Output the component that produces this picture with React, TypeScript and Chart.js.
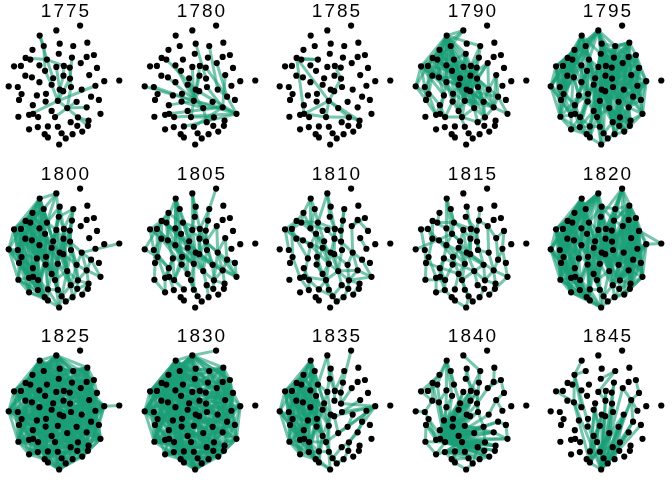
import { useEffect, useRef } from 'react';
import Chart from 'chart.js/auto';

// one shared node layout (local panel pixels), edges differ per year
const years = ['1775', '1780', '1785', '1790', '1795', '1800', '1805', '1810', '1815', '1820', '1825', '1830', '1835', '1840', '1845'];

const nodeX = [81, 55.7, 38, 59.3, 42.3, 73.7, 88.7, 30.3, 58.3, 72.3, 88, 95.7, 23, 28, 45.7, 10.7, 18, 37.7, 55.7, 63.7, 70, 81.7, 99, 43.7, 22.7, 29.7, 52.3, 63.3, 70.3, 90.7, 106.7, 122.7, 37.7, 5, 14.7, 50.7, 71.3, 82.7, 97.3, 59.3, 63, 44.7, 35, 18.7, 16, 92.7, 57.3, 44.3, 77.3, 101, 30.7, 67.3, 88, 50.7, 26.7, 31, 15.3, 36.3, 54.3, 78.7, 102.7, 71, 90, 78, 89.3, 26.7, 36, 46.7, 57.3, 43.3, 46.7, 61.3, 65.7, 73, 83.3, 58.7];
const nodeY = [25.7, 30.7, 36, 44.3, 46.7, 46.7, 43.3, 50.7, 54.7, 58.7, 58, 56, 59, 60.7, 60.7, 67.7, 67.3, 66.7, 68.3, 67.3, 69, 64.3, 69.3, 72.3, 77.3, 79, 80, 77.3, 80.3, 76.7, 83, 82.3, 84, 88.3, 89, 86.7, 89, 91.7, 87.7, 91.7, 93.3, 96, 97.7, 96.3, 102.3, 99, 103.3, 104, 104.3, 102.3, 107.7, 110.7, 110, 113.7, 117.7, 116.7, 119.7, 120, 120, 120.3, 116.7, 125.3, 123.7, 129, 129, 132.7, 130.3, 129.7, 130, 137.7, 141, 136.7, 142, 137.7, 135, 148.3];

// edges as "node:neighbour,neighbour" (1-based node numbers)
const edges1775 = '3:5,15 5:24 13:15 15:20,27 20:21,28 21:37 19:40 24:36 28:40 29:41 36:47 40:47 41:47 37:52 47:52,55 39:47 49:52 52:59,65,53 60:63 10:29';
const edges1780 = '34:47 35:47 18:47 26:52 14:40 6:38 4:29 19:47 20:47 21:46 28:47 37:53 47:53,61,59 53:61 46:61 56:53 58:61 68:61 51:47 48:52 52:53,62 62:60 59:60 27:47 38:46 22:46 30:53 41:47 36:52 40:61 69:53';
const edges1785 = '13:15,47,56 14:15 47:29,56,59,60,63 56:59 59:60 60:63 20:29';
const edges1790 = '3:8,13,14,15,18,24,27,9,6 5:15,18,24 8:13,14,17,26 13:16,17,25,26,34 14:18,24,26 15:19,20,24,27,28 16:25,34,35 17:25,44 18:24,27,33,36 19:27,28,40,47 20:21,28,29,40,41 21:29,37,10 6:10,20 9:19,20 22:29,38 24:33,36,42 25:35,44 26:33,43 27:36,40,42,47 28:37,40,41,52 29:37,41,38,46 30:38,46,53 33:42,43,48 34:44,45 35:45,51 36:40,47,48 37:49,52 38:49,53 40:47,52,54 41:52,49 42:47,48,54 43:51,56 44:45,55 45:55 46:53,61 47:54,59 48:54,58 49:53,60 51:55,58 52:59,60,62 53:60,61 54:59,69 56:58 58:59 59:62 60:62 3:16,25,26,33,36,40,28,20 8:18,24,27,33,15 13:14,18,24,33,27 14:15,27,36,40 16:17,26,33,43 17:26,33,24 25:26,33,42 26:27,36,40 5:14,13,27,19 2:3,5,8 9:15,27,40 15:36,40,41 18:19,40,47 24:27,40,47 19:20,21,41 20:37,47,52 21:28,40 27:28,41,52 28:29,49 36:41,52,54 40:41,49,53 41:53,60,46 47:49,52,53 22:28,41 10:20,28 29:53,60,49';
const edges1795 = '2:5,9,15,6 3:8,14,24,9,15 4:9,20,10,6,19 5:13,15,18,8 6:10,11,22,7 7:11,12,22 8:13,16,17,25,26 9:19,20,27,21 10:21,22,28,29 11:22,23,30 12:23,30,22 13:16,17,25,34 14:18,26,33,24 15:24,27,19,36 16:34,35,25 17:25,44,35 18:24,33,42,26 19:27,28,40,36 20:28,29,41,37 21:29,37,38 22:30,38,29 23:30,31,39 24:36,42,33 25:35,44,45 26:33,43,44 27:36,40,47,42 28:37,40,41,52 29:37,38,49 30:39,46,38,31 31:39,50,46 33:43,48,42 34:44,45,57 35:44,45,51 36:42,47,48 37:49,52,41 38:46,49,53 39:46,50,53 40:47,52,54 41:52,49,59 42:48,54,43 43:51,56,48 44:45,55,51 45:57,55 46:50,53,61 47:54,59,69 48:54,58,67 49:53,60,62 50:61,53 51:55,56,58 52:60,62,59 53:60,61,63 54:59,68,69 55:57,66,56 56:58,67 57:66 58:67,68 59:69,72 60:62,63,64 61:63,65 62:64,72,74 63:65,75 64:74,75 65:75 66:70,67 67:70,68 68:71,69 69:72,76 70:71 71:76 72:73,76 73:74,76 74:75 3:36 8:42 15:47 20:52 12:38 31:53 34:55 57:70 13:43 22:49 28:59 19:54 11:46 2:13,16,25,34,44,20,28,29 3:25,34,44,57,27,40 5:16,25,35,45 8:34,35,44,45,55 13:35,44,57 16:44,45,57 4:28,40,47 6:20,28,37,49 7:10,21,29,30 9:28,36,47 10:30,37,38 11:29,38,46 12:39,46 20:40,47,54 21:41,52 22:37,46 24:43,48,51 27:48,54,59 28:49,52,60 29:52,53 30:50,53 36:54,59 37:53,60 38:50,60,61 40:59,62 41:60,64 42:51,58,67 43:55,57 47:62,72 49:63,64 52:64,74 53:65,64 54:67,70,71 59:71,76 58:66,70 62:75 60:65,74 31:61 39:61 23:46 7:6,9,20,28,37,38 12:10,21,29,37,31 11:21,28,37,49 22:28,41,52,53 23:22,38,46,49,50 30:29,37,49,60 31:38,49,53 10:9,20,41,49 6:19,21,29 4:21,22,29 9:22,29 2:10,21 47:60,64 52:63,65,75 49:65,75 53:75 60:75 40:64,69 41:72,74';
const edges1800 = '2:5,15 3:5,8,14,15,24,18 4:9,15,19 5:8,13,14,15,18 6:9,20,10 8:13,14,16,17,25 13:16,17,25,26,34 14:18,24,26,33 15:18,19,24,27 16:25,34,35,44 17:25,35,44,45 18:24,26,33,42 19:27,28,36,40 20:28,29,40,21 21:29,37,41 9:19,20,27 10:21,29 24:33,36,42,48 25:35,44,43 26:33,43,51 27:36,40,42,47 28:37,41,47,52 29:37,38,49 33:42,43,48,51 34:44,45,57 35:44,45,55 36:40,47,48,54 37:49,52,60 38:46,49,53,32 40:47,52,54,59 41:49,52,62 42:48,54,58 43:51,55,56 44:45,55,57 45:55,57,66 46:53,61 47:54,59,69 48:54,58,67 49:53,60,62 51:55,56,58 52:59,60,62,72 53:60,61,63 54:59,68,69 55:57,66,67 56:58,67 57:66 58:67,68,70 59:69,72 60:62,63,64 62:64,72,74 63:64,75 64:74 66:70 67:70,71 68:71,69 69:72,73 70:71 71:76 72:73,76 73:74 3:27 13:42 16:43 14:36 34:51 5:27 8:33 17:42 25:48 3:13,16,25,33 5:16,17,24,33 8:18,24,26,35 13:33,43,44 14:25,42 16:26,33,45 17:26,43 18:36,48 24:40,47,54 25:51,55 26:42,48 27:48,54 33:54,58 34:43,35 35:51 42:43,59,67 43:58,67 44:51,66 45:58 47:52,62 48:59,68 51:67,66 54:72 55:70 57:67 58:71 59:76 68:76 19:41,47 20:41,52 36:59 40:62 4:20,27 2:3,9 6:21 3:26,42 8:36 13:48 16:51 17:48,55 25:58 26:54 34:55 35:58 44:67 45:67 57:70 66:71 43:70 51:70 42:68';
const edges1805 = '1:6 2:20,19 3:14,18,27,24 6:20,21 4:19 8:13,17,26 13:25,34,16 14:26,33 15:20,27 16:25,35 17:44 18:33,42 19:27,40 20:29,28,41 21:37,29 10:21 22:29,38 24:36 25:35,44 26:43,33 27:40,47 28:41,52 29:38,49 30:38,46 33:42,48 34:44 35:45,51 36:47,54 37:49,52 38:53,61 40:52,47 41:49,61 42:54,58 43:51,55 44:55 45:57 46:61,53 47:59,69 48:58 49:60,53 51:56 52:60,62 53:63,61 54:69 55:66 56:67 58:68 59:72 60:63,64 62:74 63:65 14:36 3:40 17:47 25:52 13:49 26:53 8:46 3:33,42 2:9 13:24,27 14:40 16:33 17:26 25:48 26:47 33:47 36:52 42:47 43:58 44:51 48:54 51:55 55:58 57:66 59:69 62:64 60:53 61:50 46:50 38:60 20:37 29:41';
const edges1810 = '3:5,8 2:9,20 5:15,18 8:13,14 13:16,15,19 14:17 15:20,24 19:28 9:20 20:21,28,41 21:37 6:21,10 28:40,29 24:42,36 16:25,35 17:44 25:43 26:40 33:47 36:40,48 40:47,52 41:52,49 29:38 37:52 38:53,46 42:54 43:56 44:55 48:59 51:58 54:59 52:60,62,59,53 47:59,52 59:69,72 56:59 55:67 58:68 60:64,63,61 62:72 64:74 53:61 49:60 68:72 69:73 73:74 75:63 18:40 14:27 10:29 11:22 22:38 27:47 13:14,17 8:18 3:18 2:15 15:27 16:26 17:25 24:33 25:26 26:33 33:43 36:47 40:41 47:54 54:69 56:58 58:67 48:54 42:48 59:68 62:64 63:65 53:60 46:61 38:49 12:22 11:23 30:39';
const edges1815 = '3:24,18 5:15 34:24 13:18 8:14 14:15 15:19,20 24:27,33 18:27 19:28,40 4:20 6:21 9:21 20:29 21:37 10:22 22:30 23:30,39 30:46 39:46,61 26:33 25:44 33:43,47 27:40,47 28:41 29:49 36:48 40:52 41:53 37:38 38:53 46:53 44:55 43:51 42:54 48:58 51:56,58 47:59,54 52:59,62 53:60,61 49:60 54:68 56:67 59:69 60:63 62:64 63:65 58:67 69:72 72:73 64:74 55:66 35:45 16:35 17:42 43:52 26:49 45:54 57:58 3:15 13:14,25 15:24 16:17 17:25 25:26 18:33 19:27 20:41 21:29 22:38 28:40 29:37 36:47 40:47 41:49 43:56 45:57 52:60 53:63 61:65 49:52 54:59 66:67 67:70 70:71 71:76 72:76 59:72 65:75';
const edges1820 = '1:22,11,12 2:4,5,9,15,19 3:5,8,13,14,15,24,27 4:6,9,10,20 5:8,14,18,24 6:7,10,11,21 7:11,12,22,23 8:13,16,17,25 9:19,20,21,28 10:21,22,29 11:22,23,30 12:23,30,31 13:16,17,25,34,35 14:18,26,33,44 15:19,24,27,36 16:34,35,44,45 17:25,35,44 18:24,33,42,43 19:27,28,36,40 20:28,29,41,37 21:29,37,38 22:29,30,38,39 23:30,31,39,32 24:36,42,48 25:35,43,44,51 26:33,43,51 27:36,40,42,47 28:37,40,41,52 29:37,38,49 30:38,39,46 31:39,46,50,32 33:42,43,48 34:44,45,57 35:44,45,51,55 36:42,47,48,54 37:49,52,60 38:46,49,53 39:46,50,53 40:47,52,54 41:49,52,59 42:48,54,58 43:51,56,58 44:45,55,57 45:55,57,66 46:50,53,61 47:54,59,69 48:54,58,67 49:53,60,62 50:53,61,63 51:55,56,58 52:59,60,62,72 53:60,61,63 54:59,68,69 55:57,66,67 56:58,67 57:66,70 58:67,68,70 59:69,72 60:62,63,64 61:63,65 62:64,72,74 63:64,65,75 64:74,75 65:75 66:70,67 67:70,71 68:71,69,76 69:72,76 70:71 71:76 72:73,76 73:74,76 74:75 2:16,34,57,70 3:45,66,71 7:38,53,65,75 12:46,61,65 16:66,71 34:70,76 8:44,57 23:50,61 6:29,37 9:36,47 4:27 10:41 11:38,46 22:49 13:43,55 17:51,56 5:33,43 15:42,48 2:13,25,44 3:16,25,34,26 7:30,39,46 12:22,39,53 1:6,10 8:35,44,14 13:44,26 16:57,55 17:45 34:66 35:57 44:66 45:70 57:71 66:76 70:76 23:46,53 31:53,61 39:61,65 30:53 46:63 50:65 61:75 65:74 24:40,47 27:52 19:41 20:47 28:49 36:59 42:59,68 48:68,69 54:72 47:62 40:60 41:60 1:9,20,21,28 6:20,28,29,37 7:10,20,29,37,49 10:28,37,49 11:29,37,49,52 12:29,38,49 22:37,52,60 23:38,49,60 30:49,60,61 31:38,49,60 38:52,62,65 39:49,60,63 46:49,62,65 50:60,64 9:27,40 19:47,52 20:52,62 21:41,52,49 28:47,59 29:41,52,62 27:47,59 36:54,68 4:15,19,28 2:8,13 3:17,26,33 5:16,25,35 13:33,42,51 16:43,51 17:33,48 25:45,57 35:56,66 44:58,67 45:67,71 55:71 57:67 66:71';
const edges1825 = '2:3,4,5,6,9,13,16,25,34,44,57,66,70,76,73,65,61,50,31,23,12,7 3:8,13,16,34,45,57,66,71,76,74,75,65,63,61,50,39,31,23,12 7:8,13,16,34,35,45,57,66,70,76,64,65,61,12,11,22 12:13,16,25,34,44,57,66,70,71,76,73,75,23 23:8,16,34,45,55,57,66,70,76,74,39 31:3,8,13,16,34,44,57,66,70,76,72,65,39,50,32 50:8,13,16,34,45,57,66,70,76,61,65 61:8,13,16,34,35,57,66,70,65,75 65:8,13,16,25,34,45,57,66,75,76 75:5,8,13,16,34,44,57,76,74 76:5,8,13,16,34,45,70,71 70:5,8,13,39,66,57 57:5,8,34,16,39,66 34:5,16,13,39,46 16:13,8,39,46,53,63 8:3,5,13,30,39,46,63 13:5,25,30,46,53,60 5:9,15,20,21,22,30 9:10,11,20,28 4:6,10,20 6:7,10,22 10:11,22,29 11:12,22,30 22:23,30,38 30:39,46 39:46,50,53 46:53,61 53:60,63 60:63,64 63:64 64:74 74:73 73:72 72:69 69:68 68:71 71:70 66:67 67:58 58:55 55:57 45:57 44:45 35:45 17:35 25:17 14:25 18:14 24:18 27:24 19:27 20:19 28:20 29:28 37:29 38:37 49:38 52:49 62:52 41:62 40:41 47:40 54:47 59:54 36:59 42:36 48:42 43:48 51:43 56:51 33:56 26:33 18:47,54,59,69,72,49 24:40,52,62,73,60 27:41,52,64,53 33:54,68,71,62 26:42,58,70,47 44:43,51,67,54 45:56,66,59 35:43,51,48';
const edges1830 = '1:2 2:3,4,5,9,13,16,25,34,44,57,66,70,76,73,61,31,12 3:8,13,16,34,45,57,66,71,76,74,65,50,23 7:13,16,34,45,57,70,76,12 12:16,34,57,66,76,23 23:16,34,57,70 31:16,34,57,66 50:13,34,57,66,76 61:16,34,66,70 65:13,34,57,66,76 75:5,8,16,34,57,76 76:5,8,13,16,34,45,70,71,25,17 70:5,8,13,66,57,3,14 57:5,8,34,16,14,18 34:5,16,13,8,3,18,24 16:13,8,3,5,2 8:3,5,13,14,18,24,27 13:5,25,18,24,33,42 5:9,15,20,21,24,27 9:10,20,28 4:6,10,20 6:10,22 10:29 22:30 30:46 39:50 46:53 53:60 60:63,64 64:74 74:73 73:72 72:69 69:68 68:71 71:70 66:67 67:58 58:55 55:57 45:57 44:45 35:45 17:35 25:17 14:25 18:14 24:18 27:24 19:27 20:19 28:20 29:28 41:62 40:41 47:40 54:47 59:54 36:59 42:36 48:42 43:48 51:43 56:51 33:56 26:33 18:47,54,59,69,72 24:40,52,62,73 27:41,52,64 33:54,68,71 26:42,58,70 44:43,51,67 45:56,66 35:43,51 7:22,30,39,46,53 12:30,39,46,50 23:31,39,46,53 31:39,46,50,61 39:46,61,65 50:61,63 61:63,65,75 65:75,74 11:22,30,38 22:38,46,49 30:38,53,60 38:53,60,62 46:60,63 53:62,64 49:62,64,75 2:7,12,23 3:22,30,38 13:30,38,46,53,61 16:39,46,53 8:22,30,38,46 34:46,53,60,63 57:53,60,63,65 66:60,64,75 70:63,64,75 76:60,63,64 5:22,7 9:22 18:30,38 24:46,49 25:38,49';
const edges1835 = '1:10 2:9,15 3:5,8,14,18,24 5:8,13,15,18 8:13,14,16,17,25 13:16,17,25,26,34 14:18,24,26,33 16:25,34,35,44 17:25,35,44,45 18:24,33,42,43 24:33,36,42,48 25:35,44,43,51 26:33,43,51 33:42,43,48,51 34:44,45,57 35:44,45,55 42:48,54,58 43:51,55,56 44:45,55,57 45:55,57,66 48:54,58,67 51:55,56,58 55:57,66,67 56:58,67 57:66,70 58:67,68,70 66:70,67 67:70,71 68:71,69 70:71 71:76 54:59,68 59:69,72 69:72,76 72:73 73:74 74:64 4:19,20 9:20 15:19,27 19:27,40 20:28 21:29 27:36,40,47 36:47,48 40:47,54 47:59,69 31:41,52,49,37,29,60 30:37 10:21 6:20 22:29 38:49 39:46 46:53 53:60 60:62,64 62:72 49:52 52:59 41:52 16:43 13:42 17:51 3:27 8:36 14:47 25:54 34:58 57:59 35:48 3:13,16,25,33,42 5:14,17,24,26 8:18,24,26,33,35,44 13:14,18,24,33,43,44 14:25,42,48 16:17,26,43,45 17:26,33,43 18:26,36,48 24:43,51,54 25:26,33,55 26:44,48,55 33:44,54,58 34:43,55 35:51,57 42:43,51,67 43:44,57,58,67 44:51,58,66 45:51,58 51:57,67,70 55:58,70 56:66,70 57:67 58:71 67:68,76 54:71 48:68 42:59';
const edges1840 = '2:6 6:10,20 3:8,14,15,18,24 8:13,16 13:17,25 14:17 4:9,20 7:11 11:22 12:23,22 23:30 30:39,38 22:29 9:21 5:15 15:27 24:33 18:26 58:13,14,18,24,27,28,29,36,40,41,47,52,53,60,61,46,38,49,63,65,75,64 56:19,20,27,40,52,53,60,46,61,63 51:20,21,28,37,49,53,60 55:47,52,62,64 43:51,56,58,27 44:55 45:57 57:66 66:67 67:70 70:71 71:76 68:71 54:59 59:69 69:72 67:59,62,72 48:54,58 42:48 33:43 26:43 25:35 35:44 16:25 34:35 10:29 21:37 29:37 20:28 28:40 37:49 46:50 50:61 53:61 49:60 60:63 63:65 62:73 73:76 74:75 64:74 72:73 47:54 56:28,41,49,64,65 55:58,60,63,75 51:40,41,52,62 43:47,52,53 58:19,20,21,37,62 67:52,60,64,75 68:60,74 70:59,72 57:58 44:58 45:55,56 66:58';
const edges1845 = '76:8,26,27,28,29,30,37,38,40,41,46,49,50,53,60,22,10,20,71,72,73 71:26,27,40,47,52,49,38 73:30,38,46,29,53 16:26,17 26:33 8:26,33 6:9,19 10:29 20:28 22:30 30:39,46 23:30 29:37 12:23 69:52,60 74:38 68:27,40 5:8 3:8 47:54 36:47 19:28';

const edgeLists = [edges1775, edges1780, edges1785, edges1790, edges1795, edges1800, edges1805, edges1810, edges1815, edges1820, edges1825, edges1830, edges1835, edges1840, edges1845];

const PW = 132;
const PH = 155;
const TITLE_SIZE = 19;
const TITLE_H = TITLE_SIZE * 1.2;
const EDGE_COLOR = 'rgba(27, 158, 119, 0.6)';
const FONT = '"Liberation Sans", Arial, Helvetica, sans-serif';

function parseEdges(s: string): [number, number][] {
  const out: [number, number][] = [];
  for (const tok of s.trim().split(/\s+/)) {
    const [a, rest] = tok.split(':');
    for (const b of rest.split(',')) out.push([+a - 1, +b - 1]);
  }
  return out;
}

// slightly wider title spacing, like the reference
const titleSpacing = {
  id: 'titleSpacing',
  beforeDraw(chart: any) {
    chart.ctx.letterSpacing = '2px';
  },
};

function Panel({ year, edges, left, top }: { year: string; edges: string; left: number; top: number }) {
  const chartRef = useRef<HTMLCanvasElement>(null);

  useEffect(() => {
    if (!chartRef.current) return;
    const ctx = chartRef.current.getContext('2d');
    if (!ctx) return;

    const nodes = nodeX.map((x, i) => ({ x, y: nodeY[i] }));
    const edgeData: { x: number | null; y: number | null }[] = [];
    for (const [a, b] of parseEdges(edges)) {
      edgeData.push({ x: nodeX[a], y: nodeY[a] }, { x: nodeX[b], y: nodeY[b] }, { x: null, y: null });
    }

    const chart = new Chart(ctx, {
      type: 'scatter',
      data: {
        datasets: [
          {
            data: nodes,
            pointRadius: 3.1,
            pointBackgroundColor: '#000',
            pointBorderWidth: 0,
            order: 0,
            clip: false,
          },
          {
            data: edgeData,
            showLine: true,
            spanGaps: false,
            pointRadius: 0,
            borderColor: EDGE_COLOR,
            borderWidth: 3,
            borderCapStyle: 'round',
            segment: { borderColor: EDGE_COLOR }, // stroke each edge on its own
            order: 1,
            clip: false,
          },
        ],
      } as any,
      options: {
        responsive: true,
        maintainAspectRatio: false,
        animation: false,
        events: [],
        layout: { padding: 0 },
        plugins: {
          legend: { display: false },
          tooltip: { enabled: false },
          title: {
            display: true,
            text: year,
            color: '#000',
            font: { family: FONT, size: TITLE_SIZE, weight: 'normal', lineHeight: 1.2 },
            padding: { top: 0, bottom: 0 },
          },
        },
        scales: {
          x: { type: 'linear', display: false, min: 0, max: PW },
          y: { type: 'linear', display: false, min: TITLE_H, max: PH, reverse: true },
        },
      },
      plugins: [titleSpacing],
    });

    return () => chart.destroy();
  }, [year, edges]);

  return (
    <div style={{ position: 'absolute', left, top, width: PW, height: PH }}>
      <canvas ref={chartRef} />
    </div>
  );
}

export default function App() {
  return (
    <div style={{ position: 'fixed', left: 0, top: 0, width: 672, height: 480, background: '#fff', overflow: 'hidden' }}>
      {years.map((year, i) => (
        <Panel
          key={year}
          year={year}
          edges={edgeLists[i]}
          left={Math.round((i % 5) * 135.5)}
          top={Math.round(Math.floor(i / 5) * 162.5)}
        />
      ))}
    </div>
  );
}
